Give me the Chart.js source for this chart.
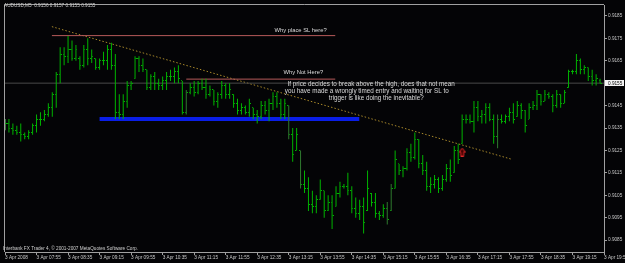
<!DOCTYPE html>
<html><head><meta charset="utf-8">
<script src="https://cdn.jsdelivr.net/npm/chart.js@4.4.0/dist/chart.umd.min.js"></script>
<style>html,body{margin:0;padding:0;background:#000;overflow:hidden}</style>
</head><body>
<canvas id="c" width="625" height="263"></canvas>
<script>
// ---------- data ----------
const symbolTitle = "AUDUSD,M5  0.9156 0.9157 0.9155 0.9155";
const copyright = "Interbank FX Trader 4, \u00A9 2001-2007 MetaQuotes Software Corp.";
const timeTickLabels = ["3 Apr 2008","3 Apr 07:55","3 Apr 08:35","3 Apr 09:15","3 Apr 09:55","3 Apr 10:35","3 Apr 11:15","3 Apr 11:55","3 Apr 12:35","3 Apr 13:15","3 Apr 13:55","3 Apr 14:35","3 Apr 15:15","3 Apr 15:55","3 Apr 16:35","3 Apr 17:15","3 Apr 17:55","3 Apr 18:35","3 Apr 19:15","3 Apr 19:55"];
const priceTicks = [0.9085,0.9095,0.9105,0.9115,0.9125,0.9135,0.9145,0.9155,0.9165,0.9175,0.9185];
const bidPrice = 0.9155;

const high = [
0.9139,0.9139,0.9137,0.9136,0.9137,0.9133,0.9134,0.9137,0.9141,0.9142,
0.9143,0.9146,0.9151,0.9160,0.9171,0.9171,0.9176,0.9174,0.9172,0.9167,
0.9172,0.9175,0.9170,0.9166,0.9166,0.9169,0.9172,0.9173,0.9168,0.9150,
0.9150,0.9156,0.9156,0.9167,0.9167,0.9166,0.9161,0.9159,0.9160,0.9157,
0.9158,0.9160,0.9161,0.9162,0.9163,0.9156,0.9152,0.9155,0.9156,0.9156,
0.9157,0.9157,0.9154,0.9152,0.9151,0.9156,0.9155,0.9155,0.9150,0.9148,
0.9146,0.9145,0.9148,0.9144,0.9143,0.9147,0.9147,0.9148,0.9151,0.9151,
0.9148,0.9148,0.9145,0.9135,0.9135,0.9125,0.9116,0.9113,0.9107,0.9105,
0.9112,0.9107,0.9105,0.9105,0.9109,0.9111,0.9110,0.9115,0.9109,0.9104,
0.9103,0.9104,0.9116,0.9106,0.9106,0.9098,0.9101,0.9102,0.9110,0.9125,
0.9119,0.9118,0.9126,0.9128,0.9133,0.9130,0.9123,0.9120,0.9113,0.9114,
0.9113,0.9114,0.9119,0.9121,0.9127,0.9128,0.9141,0.9141,0.9141,0.9147,
0.9147,0.9143,0.9146,0.9146,0.9141,0.9141,0.9141,0.9141,0.9144,0.9146,
0.9147,0.9146,0.9143,0.9146,0.9147,0.9152,0.9150,0.9152,0.9151,0.9150,
0.9152,0.9150,0.9152,0.9161,0.9161,0.9168,0.9166,0.9163,0.9162,0.9161,
0.9159,0.9157];
const low = [
0.9134,0.9133,0.9132,0.9132,0.9129,0.9130,0.9130,0.9132,0.9133,0.9136,
0.9138,0.9140,0.9140,0.9144,0.9155,0.9163,0.9164,0.9165,0.9165,0.9161,
0.9162,0.9163,0.9164,0.9161,0.9161,0.9163,0.9161,0.9161,0.9139,0.9139,
0.9139,0.9144,0.9152,0.9157,0.9160,0.9160,0.9152,0.9152,0.9152,0.9152,
0.9152,0.9152,0.9156,0.9155,0.9155,0.9141,0.9141,0.9150,0.9149,0.9150,
0.9152,0.9148,0.9149,0.9145,0.9144,0.9148,0.9148,0.9148,0.9144,0.9141,
0.9141,0.9141,0.9140,0.9139,0.9137,0.9139,0.9141,0.9138,0.9143,0.9144,
0.9139,0.9139,0.9130,0.9120,0.9125,0.9108,0.9106,0.9098,0.9097,0.9097,
0.9103,0.9095,0.9098,0.9090,0.9100,0.9104,0.9108,0.9105,0.9097,0.9095,
0.9094,0.9088,0.9098,0.9100,0.9095,0.9094,0.9095,0.9092,0.9098,0.9108,
0.9114,0.9113,0.9116,0.9120,0.9121,0.9117,0.9114,0.9107,0.9106,0.9108,
0.9106,0.9107,0.9111,0.9111,0.9115,0.9119,0.9128,0.9137,0.9137,0.9133,
0.9138,0.9137,0.9137,0.9138,0.9128,0.9126,0.9137,0.9137,0.9138,0.9137,
0.9140,0.9139,0.9133,0.9139,0.9143,0.9143,0.9145,0.9147,0.9148,0.9142,
0.9144,0.9144,0.9146,0.9153,0.9159,0.9159,0.9159,0.9159,0.9156,0.9154,
0.9154,0.9155];
const open = [
0.9136,0.9137,0.9135,0.9134,0.9133,0.9132,0.9131,0.9133,0.9136,0.9139,
0.9139,0.9141,0.9144,0.9150,0.9159,0.9168,0.9167,0.9170,0.9166,0.9166,
0.9163,0.9170,0.9166,0.9166,0.9162,0.9165,0.9165,0.9170,0.9163,0.9142,
0.9141,0.9147,0.9154,0.9157,0.9166,0.9163,0.9161,0.9153,0.9158,0.9155,
0.9154,0.9156,0.9158,0.9158,0.9160,0.9156,0.9142,0.9151,0.9153,0.9151,
0.9155,0.9153,0.9150,0.9152,0.9147,0.9150,0.9154,0.9150,0.9150,0.9146,
0.9143,0.9144,0.9142,0.9144,0.9141,0.9140,0.9145,0.9143,0.9146,0.9149,
0.9146,0.9141,0.9145,0.9132,0.9125,0.9125,0.9110,0.9108,0.9101,0.9100,
0.9103,0.9107,0.9098,0.9102,0.9100,0.9106,0.9109,0.9109,0.9107,0.9099,
0.9097,0.9100,0.9098,0.9106,0.9102,0.9097,0.9096,0.9099,0.9098,0.9108,
0.9119,0.9116,0.9117,0.9124,0.9122,0.9130,0.9119,0.9116,0.9109,0.9110,
0.9112,0.9108,0.9112,0.9117,0.9115,0.9125,0.9128,0.9139,0.9139,0.9138,
0.9144,0.9140,0.9141,0.9144,0.9139,0.9131,0.9139,0.9138,0.9140,0.9142,
0.9140,0.9145,0.9143,0.9139,0.9144,0.9145,0.9150,0.9147,0.9150,0.9149,
0.9145,0.9150,0.9146,0.9153,0.9160,0.9160,0.9165,0.9161,0.9162,0.9158,
0.9156,0.9156];
const close = [
0.9137,0.9135,0.9134,0.9133,0.9132,0.9131,0.9133,0.9136,0.9139,0.9139,
0.9141,0.9144,0.9150,0.9159,0.9168,0.9167,0.9170,0.9166,0.9170,0.9163,
0.9170,0.9166,0.9167,0.9162,0.9165,0.9165,0.9170,0.9163,0.9142,0.9141,
0.9147,0.9154,0.9155,0.9166,0.9163,0.9161,0.9153,0.9158,0.9155,0.9154,
0.9156,0.9158,0.9158,0.9160,0.9157,0.9142,0.9151,0.9153,0.9151,0.9155,
0.9153,0.9150,0.9152,0.9147,0.9150,0.9154,0.9150,0.9152,0.9146,0.9143,
0.9144,0.9142,0.9146,0.9141,0.9140,0.9145,0.9143,0.9146,0.9149,0.9146,
0.9141,0.9146,0.9132,0.9123,0.9132,0.9110,0.9108,0.9101,0.9100,0.9103,
0.9107,0.9098,0.9102,0.9096,0.9106,0.9109,0.9109,0.9107,0.9099,0.9097,
0.9100,0.9093,0.9108,0.9102,0.9097,0.9096,0.9099,0.9094,0.9108,0.9121,
0.9116,0.9117,0.9124,0.9122,0.9130,0.9119,0.9116,0.9109,0.9110,0.9112,
0.9108,0.9112,0.9117,0.9114,0.9125,0.9121,0.9139,0.9139,0.9138,0.9144,
0.9140,0.9141,0.9144,0.9139,0.9131,0.9139,0.9138,0.9140,0.9142,0.9139,
0.9145,0.9143,0.9136,0.9144,0.9145,0.9150,0.9147,0.9150,0.9149,0.9145,
0.9150,0.9146,0.9151,0.9160,0.9160,0.9165,0.9161,0.9162,0.9158,0.9156,
0.9157,0.9155];
const shadedBars = [46,72,75,97,98,125];

// drawn objects (bar index, price)
const trendLineBars = [11.9, 128.5];
const trendLinePrices = [0.91802, 0.91211];
const slLineBars = [11.9, 83.8];
const slLinePrice = 0.91762;
const notHereBars = [46, 83.8];
const notHerePrice = 0.91568;
const supportBars = [24, 89.9];
const supportPrice = 0.9139;
const arrowBar = [116];
const arrowPrice = [0.91243];

const noteTexts = ["Why place SL here?", "Why Not Here?",
  "If price decides to break above the high, does that not mean",
  "you have made a wrongly timed entry and waiting for SL to",
  "trigger is like doing the inevitable?"];
const noteBars = [75, 75.7, 92.9, 91.8, 94.2];
const notePrices = [0.91784, 0.91599, 0.91546, 0.91515, 0.91484];
const noteSizes = [5.8, 5.8, 6.3, 6.3, 6.3];

// ---------- styling ----------
const FONT = "'Liberation Sans', Arial, sans-serif";
const BAR_GREEN = '#00b400';
const AXIS = '#a0a0a0';
const nBars = high.length;

function tickImage(side) {
  const c = document.createElement('canvas');
  c.width = 3; c.height = 1;
  const g = c.getContext('2d');
  g.fillStyle = BAR_GREEN;
  g.fillRect(side === 'left' ? 0 : 2, 0, 1, 1);
  return c;
}
function arrowImage() {
  const c = document.createElement('canvas');
  c.width = 7; c.height = 9;
  const g = c.getContext('2d');
  g.fillStyle = '#400000';
  g.strokeStyle = '#e02828';
  g.lineWidth = 1;
  g.beginPath();
  g.moveTo(3.5, 0.5); g.lineTo(6.5, 4.5); g.lineTo(5, 4.5); g.lineTo(5, 8.5);
  g.lineTo(2, 8.5); g.lineTo(2, 4.5); g.lineTo(0.5, 4.5); g.closePath();
  g.fill(); g.stroke();
  return c;
}

const yMin = 0.907971, yMax = 0.918985;

const lineDs = (xs, ys, color, width, dash) => ({
  type: 'line',
  data: xs.map((x, i) => ({x, y: ys[i]})),
  borderColor: color, borderWidth: width, borderDash: dash || [],
  pointRadius: 0, tension: 0, fill: false, order: 5
});

const decor = {
  id: 'decor',
  beforeDraw(chart) {
    const c = chart.ctx;
    c.save();
    c.fillStyle = '#040406';
    c.fillRect(0, 0, chart.width, chart.height);
    c.restore();
  },
  afterDatasetsDraw(chart) {
    const c = chart.ctx, xs = chart.scales.x, ys = chart.scales.y;
    c.save();
    c.fillStyle = '#dcdcdc';
    c.textAlign = 'center';
    c.textBaseline = 'middle';
    noteTexts.forEach((t, i) => {
      c.font = `${noteSizes[i]}px ${FONT}`;
      c.fillText(t, xs.getPixelForValue(noteBars[i]), ys.getPixelForValue(notePrices[i]));
    });
    c.restore();
  },
  afterDraw(chart) {
    const c = chart.ctx, a = chart.chartArea, ys = chart.scales.y;
    c.save();
    c.strokeStyle = AXIS; c.lineWidth = 1;
    c.beginPath();
    c.moveTo(a.left - 0.5, a.bottom); c.lineTo(a.left - 0.5, a.top - 0.5); c.lineTo(a.right, a.top - 0.5);
    c.stroke();
    c.font = `4.7px ${FONT}`;
    c.fillStyle = '#d0d0d0';
    c.textBaseline = 'middle';
    c.textAlign = 'left';
    c.fillText(symbolTitle, 4, 5.5);
    c.fillText(copyright, 3, 248.5);
    const by = Math.round(ys.getPixelForValue(bidPrice));
    c.fillStyle = '#f4f4f4';
    c.fillRect(a.right + 1, by - 3, 19, 6);
    c.fillStyle = '#000';
    c.fillText(bidPrice.toFixed(4), a.right + 4, by + 0.3);
    c.restore();
  }
};

new Chart(document.getElementById('c'), {
  data: {
    datasets: [
      lineDs([0, nBars], [bidPrice, bidPrice], '#4a4a4a', 1),
      {
        type: 'bar',
        data: high.map((h, i) => ({x: i, y: [low[i], h]})),
        backgroundColor: (ctx) => ctx.dataIndex === 0 ? '#70e070' : (shadedBars.includes(ctx.dataIndex) ? '#2f7a2f' : BAR_GREEN),
        barThickness: 1, borderWidth: 0, inflateAmount: 0, order: 3
      },
      {
        type: 'line', showLine: false,
        data: open.map((v, i) => ({x: i, y: v})),
        pointStyle: tickImage('left'), pointRadius: 1, order: 2
      },
      {
        type: 'line', showLine: false,
        data: close.map((v, i) => ({x: i, y: v})),
        pointStyle: tickImage('right'), pointRadius: 1, order: 2
      },
      lineDs(supportBars, [supportPrice, supportPrice], '#0a1ee6', 4),
      lineDs(slLineBars, [slLinePrice, slLinePrice], '#b85a5a', 1),
      lineDs(notHereBars, [notHerePrice, notHerePrice], '#b85a5a', 1),
      lineDs(trendLineBars, trendLinePrices, '#a8882a', 1, [1.5, 2]),
      {
        type: 'line', showLine: false,
        data: arrowBar.map((x, i) => ({x, y: arrowPrice[i]})),
        pointStyle: arrowImage(), pointRadius: 1, order: 1
      }
    ]
  },
  options: {
    responsive: false, animation: false, events: [], devicePixelRatio: 1,
    layout: {padding: {left: 2, top: 2, right: 0, bottom: 0}},
    plugins: {legend: {display: false}, tooltip: {enabled: false}},
    scales: {
      x: {
        type: 'linear', min: 0, max: nBars, offset: false,
        afterBuildTicks: (s) => { s.ticks = timeTickLabels.map((_, k) => ({value: k * 8})); },
        afterFit: (s) => { s.height = 11; s.paddingLeft = 0; s.paddingRight = 0; },
        ticks: {
          autoSkip: false, maxRotation: 0, minRotation: 0, align: 'start', padding: 0,
          color: '#c8c8c8', font: {family: FONT, size: 4.7},
          callback: (v, i) => timeTickLabels[i]
        },
        grid: {drawOnChartArea: false, drawTicks: true, tickLength: 3, color: AXIS, offset: false},
        border: {color: AXIS}
      },
      y: {
        position: 'right', min: yMin, max: yMax,
        afterBuildTicks: (s) => { s.ticks = priceTicks.map(v => ({value: v})); },
        afterFit: (s) => { s.width = 21; s.paddingTop = 0; s.paddingBottom = 0; },
        ticks: {
          padding: 1, color: '#c8c8c8', font: {family: FONT, size: 4.7},
          callback: (v) => Number(v).toFixed(4)
        },
        grid: {drawOnChartArea: false, drawTicks: true, tickLength: 3, color: AXIS},
        border: {color: AXIS}
      }
    }
  },
  plugins: [decor]
});
</script>
</body></html>
